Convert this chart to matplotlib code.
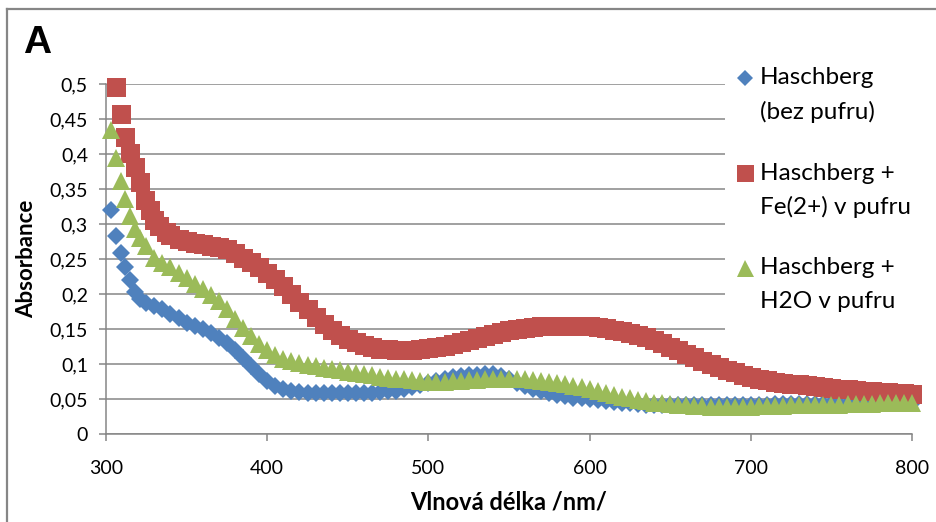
import matplotlib
matplotlib.use("Agg")
import matplotlib.pyplot as plt
from matplotlib.lines import Line2D
from matplotlib.patches import Rectangle
from matplotlib.ticker import FuncFormatter, MultipleLocator

plt.rcParams['font.family'] = ['Lato', 'DejaVu Sans']

# ---------------- data ----------------
wl_blue = [303, 306, 309, 312, 315, 318, 321, 325, 330, 335, 340, 345, 350, 355, 360, 365, 370, 375,
           380, 385, 390, 395, 400, 405, 410, 415, 420, 425, 430, 435, 440, 445, 450, 455, 460, 465,
           470, 475, 480, 485, 490, 495, 500, 505, 510, 515, 520, 525, 530, 535, 540, 545, 550, 555,
           560, 565, 570, 575, 580, 585, 590, 595, 600, 605, 610, 615, 620, 625, 630, 635, 640, 645,
           650, 655, 660, 665, 670, 675, 680, 685, 690, 695, 700, 705, 710, 715, 720, 725, 730, 735,
           740, 745, 750, 755, 760, 765, 770, 775, 780, 785, 790, 795, 800]
abs_blue = [0.320, 0.283, 0.258, 0.238, 0.220, 0.203, 0.193, 0.187, 0.183, 0.178, 0.172, 0.166, 0.159,
            0.155, 0.150, 0.145, 0.137, 0.130, 0.120, 0.109, 0.097, 0.086, 0.076, 0.069, 0.064, 0.061,
            0.060, 0.059, 0.059, 0.058, 0.058, 0.058, 0.058, 0.058, 0.059, 0.059, 0.060, 0.061, 0.062,
            0.064, 0.067, 0.070, 0.073, 0.076, 0.079, 0.081, 0.083, 0.084, 0.085, 0.086, 0.086, 0.083,
            0.078, 0.073, 0.068, 0.064, 0.061, 0.059, 0.056, 0.054, 0.052, 0.051, 0.050, 0.049, 0.047,
            0.046, 0.045, 0.044, 0.043, 0.042, 0.042, 0.042, 0.042, 0.042, 0.042, 0.042, 0.042, 0.042,
            0.042, 0.042, 0.042, 0.042, 0.042, 0.042, 0.042, 0.043, 0.043, 0.043, 0.043, 0.043, 0.043,
            0.043, 0.043, 0.043, 0.043, 0.043, 0.044, 0.044, 0.044, 0.044, 0.044, 0.044, 0.044]

wl_red = [306, 309, 312, 315, 318, 321, 324, 327, 330, 333, 337, 340, 345, 350, 355, 360, 365, 370,
          375, 380, 385, 390, 395, 400, 405, 410, 415, 420, 425, 430, 435, 440, 445, 450, 455, 460,
          465, 470, 475, 480, 485, 490, 495, 500, 505, 510, 515, 520, 525, 530, 535, 540, 545, 550,
          555, 560, 565, 570, 575, 580, 585, 590, 595, 600, 605, 610, 615, 620, 625, 630, 635, 640,
          645, 650, 655, 660, 665, 670, 675, 680, 685, 690, 695, 700, 705, 710, 715, 720, 725, 730,
          735, 740, 745, 750, 755, 760, 765, 770, 775, 780, 785, 790, 795, 800]
abs_red = [0.496, 0.457, 0.424, 0.401, 0.382, 0.360, 0.334, 0.320, 0.306, 0.297, 0.288, 0.284, 0.279,
           0.276, 0.273, 0.271, 0.269, 0.267, 0.264, 0.259, 0.252, 0.246, 0.239, 0.230, 0.221, 0.211,
           0.200, 0.189, 0.178, 0.167, 0.157, 0.149, 0.142, 0.136, 0.131, 0.127, 0.124, 0.122, 0.121,
           0.120, 0.120, 0.120, 0.121, 0.123, 0.124, 0.126, 0.128, 0.131, 0.134, 0.137, 0.140, 0.143,
           0.146, 0.148, 0.150, 0.152, 0.153, 0.154, 0.155, 0.155, 0.155, 0.155, 0.155, 0.154, 0.153,
           0.151, 0.149, 0.147, 0.144, 0.141, 0.138, 0.134, 0.130, 0.125, 0.120, 0.115, 0.110, 0.105,
           0.100, 0.096, 0.092, 0.088, 0.085, 0.082, 0.079, 0.077, 0.075, 0.073, 0.072, 0.071, 0.070,
           0.068, 0.067, 0.066, 0.065, 0.064, 0.063, 0.062, 0.061, 0.060, 0.060, 0.059, 0.058, 0.057]

wl_green = [303, 306, 309, 312, 315, 318, 321, 325, 330, 335, 340, 345, 350, 355, 360, 365, 370, 375,
            380, 385, 390, 395, 400, 405, 410, 415, 420, 425, 430, 435, 440, 445, 450, 455, 460, 465,
            470, 475, 480, 485, 490, 495, 500, 505, 510, 515, 520, 525, 530, 535, 540, 545, 550, 555,
            560, 565, 570, 575, 580, 585, 590, 595, 600, 605, 610, 615, 620, 625, 630, 635, 640, 645,
            650, 655, 660, 665, 670, 675, 680, 685, 690, 695, 700, 705, 710, 715, 720, 725, 730, 735,
            740, 745, 750, 755, 760, 765, 770, 775, 780, 785, 790, 795, 800]
abs_green = [0.434, 0.394, 0.362, 0.336, 0.312, 0.293, 0.280, 0.268, 0.252, 0.245, 0.238, 0.230, 0.223,
             0.215, 0.207, 0.199, 0.190, 0.178, 0.165, 0.152, 0.140, 0.129, 0.120, 0.113, 0.107, 0.104,
             0.101, 0.099, 0.097, 0.095, 0.093, 0.091, 0.089, 0.087, 0.086, 0.084, 0.082, 0.080, 0.079,
             0.078, 0.077, 0.076, 0.075, 0.075, 0.075, 0.076, 0.076, 0.077, 0.077, 0.078, 0.078, 0.079,
             0.079, 0.078, 0.078, 0.077, 0.076, 0.075, 0.073, 0.071, 0.069, 0.067, 0.065, 0.062, 0.059,
             0.056, 0.053, 0.051, 0.049, 0.047, 0.045, 0.044, 0.043, 0.042, 0.041, 0.040, 0.040, 0.039,
             0.039, 0.039, 0.039, 0.039, 0.039, 0.040, 0.040, 0.040, 0.040, 0.041, 0.041, 0.041, 0.042,
             0.042, 0.042, 0.042, 0.043, 0.043, 0.043, 0.043, 0.044, 0.044, 0.044, 0.044, 0.044]

series_labels = ["Haschberg\n(bez pufru)", "Haschberg +\nFe(2+) v pufru", "Haschberg +\nH2O v pufru"]
x_label = "Vlnová délka /nm/"
y_label = "Absorbance"
panel_label = "A"

# ---------------- styling ----------------
W, H = 936, 522
C_BLUE, C_RED, C_GREEN = "#4F81BD", "#C0504D", "#9BBB59"
GRAY = "#868686"
PX = 72 / 100  # points per pixel


def fx(px):
    return px / W


def fy(py):
    return 1 - py / H


fig = plt.figure(figsize=(W / 100, H / 100), dpi=100)
ax = fig.add_axes([fx(106), fy(434), (912 - 106) / W, (434 - 84) / H])

styles = [("D", 13 * PX, C_BLUE), ("s", 19 * PX, C_RED), ("^", 18.5 * PX, C_GREEN)]
legend_styles = [("D", 12 * PX, C_BLUE), ("s", 17 * PX, C_RED), ("^", 17 * PX, C_GREEN)]
data = [(wl_blue, abs_blue), (wl_red, abs_red), (wl_green, abs_green)]
for (wl, ab), (mk, ms, col) in zip(data, styles):
    ax.plot(wl, ab, linestyle="none", marker=mk, markersize=ms, color=col,
            markeredgewidth=0, clip_on=False, zorder=3)

ax.set_xlim(300, 800)
ax.set_ylim(0, 0.5)
ax.xaxis.set_major_locator(MultipleLocator(100))
ax.yaxis.set_major_locator(MultipleLocator(0.05))
ax.yaxis.set_major_formatter(FuncFormatter(lambda v, p: ("%g" % round(v, 2)).replace(".", ",")))
ax.grid(axis="y", color=GRAY, linewidth=1.1, zorder=0)
ax.set_axisbelow(True)
for s in ["top", "right"]:
    ax.spines[s].set_visible(False)
for s in ["left", "bottom"]:
    ax.spines[s].set_color(GRAY)
    ax.spines[s].set_linewidth(1.1)
ax.tick_params(axis="both", colors=GRAY, labelcolor="black", width=1.1, length=5,
               direction="out", labelsize=14)
ax.tick_params(axis="x", pad=14)
ax.tick_params(axis="y", pad=8)

ax.set_xlabel(x_label, fontsize=17, fontweight="bold")
ax.set_ylabel(y_label, fontsize=16, fontweight="bold")
ax.xaxis.set_label_coords(fx(509), fy(491), transform=fig.transFigure)
ax.yaxis.set_label_coords(fx(37), fy(259), transform=fig.transFigure)

# panel label
fig.text(fx(23), fy(43), panel_label, fontsize=28, fontweight="bold",
         family=["Liberation Sans", "DejaVu Sans"], va="center", ha="left")

# outer frame (top and left only visible)
fig.add_artist(Line2D([fx(7), fx(7)], [fy(9), 0], transform=fig.transFigure, color=GRAY, lw=1.6))
fig.add_artist(Line2D([fx(7), 1], [fy(9), fy(9)], transform=fig.transFigure, color=GRAY, lw=1.6))

# legend background: covers gridlines but sits below the data markers
ax.add_patch(Rectangle((fx(725), fy(367)), fx(934) - fx(725), fy(60) - fy(367),
                       transform=fig.transFigure, facecolor="white", edgecolor="none",
                       zorder=1, clip_on=False))
for j, (lab, (mk, ms, col)) in enumerate(zip(series_labels, legend_styles)):
    y0 = 78 + 95 * j
    fig.add_artist(Line2D([fx(745)], [fy(y0)], transform=fig.transFigure, linestyle="none",
                          marker=mk, markersize=ms, color=col, markeredgewidth=0, zorder=6))
    for i, line in enumerate(lab.split("\n")):
        fig.text(fx(760), fy(y0 + 34 * i), line, fontsize=17.5, va="center", ha="left", zorder=6)

fig.savefig("out.png", dpi=100)
